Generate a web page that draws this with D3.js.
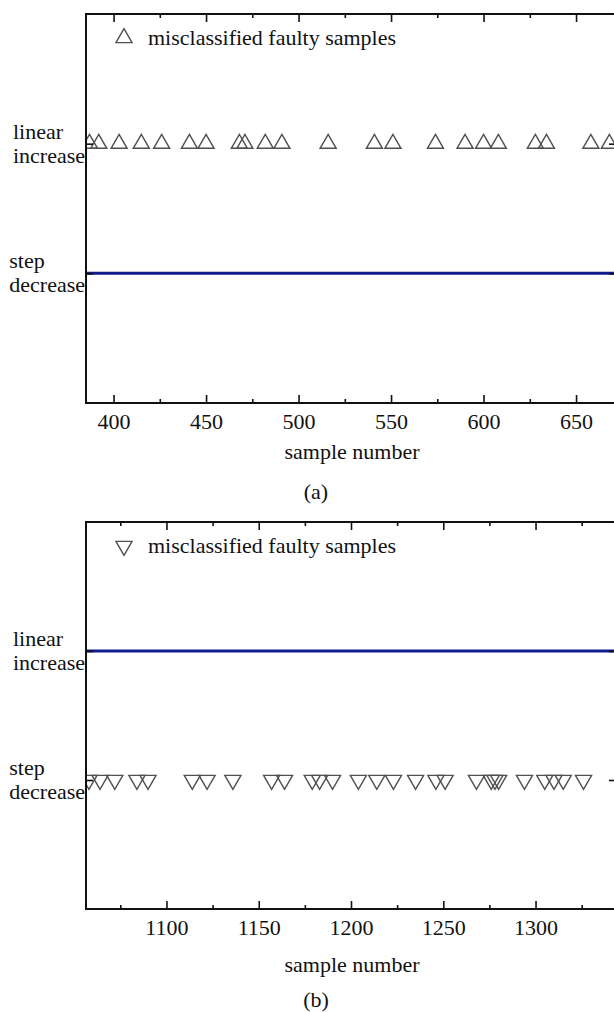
<!DOCTYPE html>
<html>
<head>
<meta charset="utf-8">
<script src="https://cdn.jsdelivr.net/npm/d3@7"></script>
<style>
  body { margin: 0; background: #fff; }
  text { font-family: "Liberation Serif", "Times New Roman", serif; fill: #111; }
</style>
</head>
<body>
<div class="graph"></div>
<script>
let categories = ["linear increase", "step decrease"];
let categoryLines = { "linear increase": ["linear", "increase"], "step decrease": ["step", "decrease"] };
let legendText = "misclassified faulty samples";
let axisTitle = "sample number";

// panel (a): true fault = step decrease, misclassified as linear increase
let ticksA = [400, 450, 500, 550, 600, 650];
let minorA = [425, 475, 525, 575, 625];
let faultyA = [387, 392, 403, 415, 426, 441, 450, 468, 471, 482, 491, 516,
  541, 551, 574, 590, 600, 608, 628, 634, 658, 668];

// panel (b): true fault = linear increase, misclassified as step decrease
let ticksB = [1100, 1150, 1200, 1250, 1300];
let minorB = [1075, 1125, 1175, 1225, 1275, 1325];
let faultyB = [1058, 1064, 1072, 1084, 1090, 1114, 1122, 1136, 1157, 1164,
  1179, 1183, 1190, 1204, 1214, 1223, 1235, 1246, 1251, 1268, 1276, 1278,
  1280, 1294, 1305, 1310, 1315, 1326];

let w = 614;
let h = 1012;
let left = 86;
let right = 616;
let fs = 22;

let panels = [
  { top: 14, bottom: 403, domain: [385.1, 671.6], ticks: ticksA, minor: minorA,
    points: faultyA, pointCat: "linear increase", lineCat: "step decrease",
    rot: 0, caption: "(a)", id: "a", titleDy: 56, captionDy: 96 },
  { top: 522, bottom: 909, domain: [1056.4, 1343.6], ticks: ticksB, minor: minorB,
    points: faultyB, pointCat: "step decrease", lineCat: "linear increase",
    rot: 180, caption: "(b)", id: "b", titleDy: 63, captionDy: 98 }
];

let svg = d3.select(".graph").append("svg")
  .attr("width", w)
  .attr("height", h);

let tri = d3.symbol().type(d3.symbolTriangle).size(112);

panels.forEach(function (p) {
  let xScale = d3.scaleLinear().domain(p.domain).range([left, right]);
  let yScale = d3.scalePoint().domain(categories).range([p.top, p.bottom]).padding(1);

  let g = svg.append("g").attr("id", "panel-" + p.id);

  g.append("clipPath").attr("id", "clip-" + p.id)
    .append("rect")
    .attr("x", left).attr("y", p.top)
    .attr("width", right - left).attr("height", p.bottom - p.top);

  // horizontal line for the true class
  let line = d3.line().x(d => xScale(d)).y(() => yScale(p.lineCat));
  g.append("path")
    .datum(p.domain)
    .attr("d", line)
    .attr("fill", "none")
    .attr("stroke", "#101a8c")
    .attr("stroke-width", 3);

  // misclassified samples
  g.append("g").attr("clip-path", "url(#clip-" + p.id + ")")
    .selectAll("path")
    .data(p.points)
    .enter()
    .append("path")
    .attr("d", tri)
    .attr("transform", d => "translate(" + xScale(d) + "," + yScale(p.pointCat) + ") rotate(" + p.rot + ")")
    .attr("fill", "none")
    .attr("stroke", "#505050")
    .attr("stroke-width", 1.4);

  // axes (ticks pointing inward)
  let xBottom = d3.axisBottom(xScale).tickValues(p.ticks).tickFormat(d3.format("d"))
    .tickSizeInner(-8).tickSizeOuter(0).tickPadding(10);
  let xTop = d3.axisTop(xScale).tickValues(p.ticks).tickSizeInner(-8).tickSizeOuter(0).tickFormat("");
  let xBottomMinor = d3.axisBottom(xScale).tickValues(p.minor).tickSizeInner(-4).tickSizeOuter(0).tickFormat("");
  let xTopMinor = d3.axisTop(xScale).tickValues(p.minor).tickSizeInner(-4).tickSizeOuter(0).tickFormat("");
  let yLeft = d3.axisLeft(yScale).tickSizeInner(-7).tickSizeOuter(0).tickFormat("");
  let yRight = d3.axisRight(yScale).tickSizeInner(-7).tickSizeOuter(0).tickFormat("");

  let axes = [
    [xBottom, "translate(0," + p.bottom + ")"],
    [xBottomMinor, "translate(0," + p.bottom + ")"],
    [xTop, "translate(0," + p.top + ")"],
    [xTopMinor, "translate(0," + p.top + ")"],
    [yLeft, "translate(" + left + ",0)"],
    [yRight, "translate(" + right + ",0)"]
  ];
  axes.forEach(function (a) {
    let ag = g.append("g").attr("transform", a[1]).call(a[0]);
    ag.selectAll(".domain").remove();
    ag.selectAll("line").attr("stroke", "#111").attr("stroke-width", 1.6);
    ag.selectAll("text").attr("font-size", fs).attr("font-family", "Liberation Serif, Times New Roman, serif").attr("fill", "#111");
  });

  // frame
  g.append("rect")
    .attr("x", left).attr("y", p.top)
    .attr("width", right - left).attr("height", p.bottom - p.top)
    .attr("fill", "none")
    .attr("stroke", "#111")
    .attr("stroke-width", 2);

  // category labels, two lines, left aligned block ending at the axis
  categories.forEach(function (c) {
    let t = g.append("text").attr("font-size", fs);
    categoryLines[c].forEach(function (s, i) {
      t.append("tspan").attr("x", 0).attr("y", yScale(c) + (i === 0 ? -5 : 19)).text(s);
    });
    let bw = t.node().getBBox().width;
    t.selectAll("tspan").attr("x", left - 1 - bw);
  });

  // legend
  let ly = p.top + 24;
  g.append("path")
    .attr("d", tri)
    .attr("transform", "translate(124," + ly + ") rotate(" + p.rot + ")")
    .attr("fill", "none")
    .attr("stroke", "#505050")
    .attr("stroke-width", 1.4);
  g.append("text").attr("x", 148).attr("y", ly + 7).attr("font-size", fs).text(legendText);

  // titles
  g.append("text")
    .attr("x", (left + right) / 2 + 1).attr("y", p.bottom + p.titleDy)
    .attr("text-anchor", "middle").attr("font-size", fs)
    .text(axisTitle);
  g.append("text")
    .attr("x", 316).attr("y", p.bottom + p.captionDy)
    .attr("text-anchor", "middle").attr("font-size", fs)
    .text(p.caption);
});
</script>
</body>
</html>
